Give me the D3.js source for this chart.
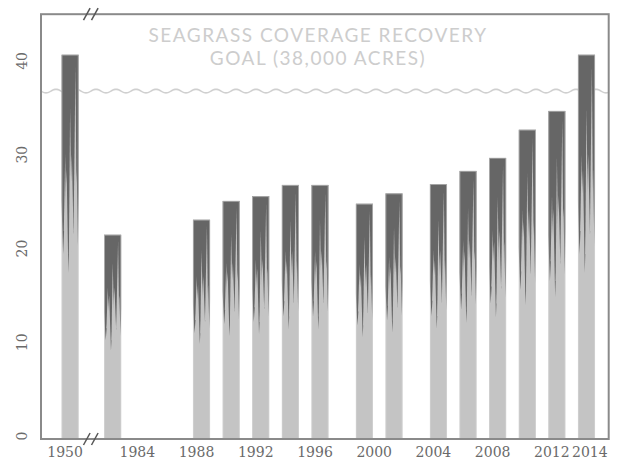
<!DOCTYPE html>
<html><head><meta charset="utf-8">
<script src="https://cdn.jsdelivr.net/npm/d3@7"></script>
<style>body{margin:0;background:#fff}</style>
</head><body><svg id="c" width="624" height="460"></svg>
<script>
// ---- data (thousands of acres) ----
const years = [1950, 1982, 1988, 1990, 1992, 1994, 1996, 1999, 2001, 2004, 2006, 2008, 2010, 2012, 2014];
const acres = [40.9, 21.7, 23.3, 25.3, 25.8, 27.0, 27.0, 25.0, 26.1, 27.1, 28.5, 29.9, 32.9, 34.9, 40.9];
const goalValue = 37.0;
const xTickYears = [1950, 1984, 1988, 1992, 1996, 2000, 2004, 2008, 2012, 2014];
const yTicks = [0, 10, 20, 30, 40];
const titleLines = ["SEAGRASS COVERAGE RECOVERY", "GOAL (38,000 ACRES)"];

// ---- layout ----
const L = 41, R = 608.7, T = 14.2, B = 438;
const breakYearA = 1951.3, breakYearB = 1980.4;
const svg = d3.select("#c");

const x = d3.scaleLinear()
  .domain([1948, breakYearA, breakYearB, 2015.5])
  .range([L, 89, 89, R]);
const y = d3.scaleLinear().domain([0, 45.2]).range([B, T]);
const barW = 17.4;

const defs = svg.append("defs");
defs.append("filter").attr("id", "soft").attr("x", "-20%").attr("y", "-5%").attr("width", "140%").attr("height", "110%")
  .append("feGaussianBlur").attr("stdDeviation", 0.55);

// title
svg.append("g").selectAll("text").data(titleLines).join("text")
  .attr("x", 318).attr("y", (d, i) => 42.3 + i * 23)
  .attr("text-anchor", "middle")
  .attr("font-family", "Lato, 'Open Sans', sans-serif")
  .attr("font-size", 19)
  .attr("letter-spacing", 1.5)
  .attr("fill", "#cdcdcd")
  .text(d => d);

// wavy goal line
const gy = y(goalValue);
const wavePts = d3.range(L, R + 0.5, 1).map(px => [px, gy + 1.8 * Math.sin(2 * Math.PI * (px - L) / 20)]);
svg.append("path").attr("d", d3.line()(wavePts))
  .attr("fill", "none").attr("stroke", "#d0d0d0").attr("stroke-width", 1.6);

// grass-blade texture in unit coords (u across, v down from top)
const darkShape = [[0,0],[1,0],[1,0.36],[0.95,0.5],[0.88,0.3],[0.7,0.47],[0.6,0.26],[0.4,0.57],[0.3,0.3],[0.1,0.52],[0,0.38]];
const lightShapes = [
  [[0.70,0.46],[0.88,0.46],[0.81,0.03]],
  [[0.43,0.52],[0.61,0.52],[0.5,0.14]],
  [[0.14,0.46],[0.28,0.46],[0.22,0.26]]
];

const bars = svg.append("g");
years.forEach((yr, i) => {
  const cx = x(yr), x0 = cx - barW / 2, y0 = y(acres[i]), h = y(0) - y0;
  const id = "clip" + i;
  defs.append("clipPath").attr("id", id).append("rect")
    .attr("x", x0).attr("y", y0).attr("width", barW).attr("height", h);
  const g = bars.append("g").attr("clip-path", `url(#${id})`);
  g.append("rect").attr("x", x0).attr("y", y0).attr("width", barW).attr("height", h).attr("fill", "#c4c4c4");
  const tg = g.append("g").attr("filter", "url(#soft)");
  const toPx = p => [x0 + p[0] * barW, y0 + p[1] * h];
  tg.append("path").attr("d", d3.line()(darkShape.map(toPx)) + "Z").attr("fill", "#666");
  lightShapes.forEach(s => tg.append("path").attr("d", d3.line()(s.map(toPx)) + "Z").attr("fill", "#c4c4c4"));
  g.append("rect").attr("x", x0 + 0.5).attr("y", y0 + 0.5).attr("width", barW - 1).attr("height", h)
    .attr("fill", "none").attr("stroke", "#d8d8d8").attr("stroke-opacity", 0.6).attr("stroke-width", 1);
});

// frame
svg.append("rect").attr("x", L).attr("y", T).attr("width", R - L).attr("height", y(0) + 1 - T)
  .attr("fill", "none").attr("stroke", "#8a8a8a").attr("stroke-width", 2);

// break marks
const bx = x(breakYearA) + 1.8;
[T, y(0) + 1].forEach(by => {
  [-4, 4].forEach(off => {
    svg.append("line")
      .attr("x1", bx + off - 3.3).attr("y1", by + 6)
      .attr("x2", bx + off + 3.3).attr("y2", by - 6)
      .attr("stroke", "#555").attr("stroke-width", 1.5);
  });
});

// y labels
svg.append("g").selectAll("text").data(yTicks).join("text")
  .attr("transform", d => `translate(26.5,${y(d) - 2}) rotate(-90)`)
  .attr("text-anchor", "middle")
  .attr("font-family", "'DejaVu Serif', serif").attr("font-size", 14)
  .attr("fill", "#6a6a6a")
  .text(d => d);

// x labels
svg.append("g").selectAll("text").data(xTickYears).join("text")
  .attr("x", (d, i) => i === xTickYears.length - 1 ? R - 1 : x(d) - 5)
  .attr("y", 457)
  .attr("text-anchor", (d, i) => i === xTickYears.length - 1 ? "end" : "middle")
  .attr("font-family", "'DejaVu Serif', serif").attr("font-size", 14)
  .attr("fill", "#6a6a6a")
  .text(d => d);
</script></body></html>
